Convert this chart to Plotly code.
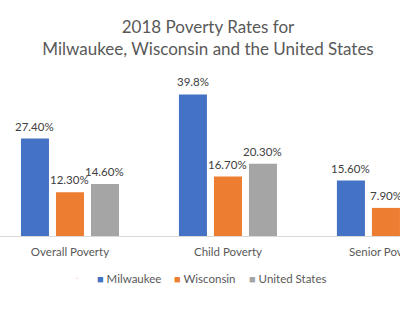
import plotly.graph_objects as go

categories = ["Overall Poverty", "Child Poverty", "Senior Poverty"]
series_names = ["Milwaukee", "Wisconsin", "United States"]
milwaukee = [27.4, 39.8, 15.6]
wisconsin = [12.3, 16.7, 7.9]
united_states = [14.6, 20.3, 9.7]
milwaukee_labels = ["27.40%", "39.8%", "15.60%"]
wisconsin_labels = ["12.30%", "16.70%", "7.90%"]
united_states_labels = ["14.60%", "20.30%", "9.70%"]

colors = ["#4472C4", "#ED7D31", "#A5A5A5"]
FONT = "Lato"
SMALL = 11.5

all_vals = [milwaukee, wisconsin, united_states]
all_labels = [milwaukee_labels, wisconsin_labels, united_states_labels]
legend_ids = ["legend", "legend2", "legend3"]
legend_left_px = [97, 174, 249]   # left edge of each legend swatch

fig = go.Figure()
annotations = []
for i, (name, vals, labels, col, lid) in enumerate(zip(series_names, all_vals, all_labels, colors, legend_ids)):
    fig.add_trace(go.Bar(
        x=categories, y=vals, name=name, marker_color=col, marker_line_width=0,
        showlegend=False, hoverinfo="skip",
    ))
    for cat, v, lab in zip(categories, vals, labels):
        annotations.append(dict(
            x=cat, y=v, xref="x", yref="y", text=lab, showarrow=False,
            xanchor="center", yanchor="bottom", xshift=(i - 1) * 35, yshift=4,
            font=dict(family=FONT, size=SMALL, color="#404040"),
        ))
    # legend proxy (coloured square drawn as text glyph)
    fig.add_trace(go.Scatter(
        x=[None], y=[None], mode="markers", marker=dict(opacity=0, size=1),
        name=f'<span style="color:{col};font-size:11px">■</span> {name}',
        showlegend=True, legend=lid,
    ))

legend_common = dict(orientation="h", xanchor="left", y=-0.264, yanchor="middle",
                     font=dict(family=FONT, size=SMALL, color="#595959"),
                     bgcolor="rgba(0,0,0,0)", borderwidth=0)

fig.update_layout(
    width=400, height=331,
    margin=dict(l=0, r=0, t=76, b=95, autoexpand=False),
    paper_bgcolor="white", plot_bgcolor="white",
    barmode="group", bargap=0.335, bargroupgap=0.2,
    font=dict(family=FONT, color="#595959"),
    title=dict(text="2018 Poverty Rates for<br>Milwaukee, Wisconsin and the United States",
               x=0.52, xanchor="center", y=1 - 33 / 331, yanchor="middle", yref="container",
               font=dict(family=FONT, size=17, color="#595959")),
    xaxis=dict(range=[-0.443, 2.089], showline=True, linecolor="#D9D9D9", linewidth=1,
               ticks="", showgrid=False, automargin=False, ticklabelstandoff=5,
               tickfont=dict(family=FONT, size=SMALL, color="#595959")),
    yaxis=dict(range=[0, 45], visible=False, showgrid=False, zeroline=False, automargin=False),
    annotations=annotations,
    legend=dict(x=(legend_left_px[0] - 40) / 400, **legend_common),
    legend2=dict(x=(legend_left_px[1] - 40) / 400, **legend_common),
    legend3=dict(x=(legend_left_px[2] - 40) / 400, **legend_common),
)

fig.write_html("out.html")
